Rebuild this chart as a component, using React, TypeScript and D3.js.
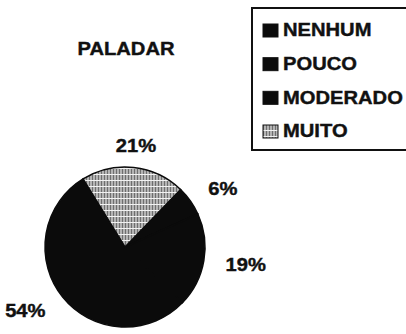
import { useEffect, useRef } from 'react'
import * as d3 from 'd3'

const categories = ['NENHUM', 'POUCO', 'MODERADO', 'MUITO']
const values = [6, 19, 54, 21]
const labels = ['6%', '19%', '54%', '21%']
const title = 'PALADAR'

const PieChart = () => {
  const pieChart = useRef<HTMLDivElement>(null)

  const drawPieChart = () => {
    // set parameters
    const width = 406
    const height = 334
    const cx = 125
    const cy = 247
    const radius = 80
    const labelRadius = 102
    const stretch = 1.12
    const font = "'Liberation Sans', Arial, sans-serif"

    d3.select(pieChart.current).selectAll('*').remove()

    const svg = d3.select(pieChart.current)
      .append('svg')
      .attr('width', width)
      .attr('height', height)
      .style('display', 'block')
      .style('background', '#fff')

    // hatch pattern for MUITO
    const defs = svg.append('defs')
    const pat = defs.append('pattern')
      .attr('id', 'hatch')
      .attr('patternUnits', 'userSpaceOnUse')
      .attr('width', 3)
      .attr('height', 6)
    pat.append('rect').attr('width', 3).attr('height', 6).attr('fill', '#b4b4b4')
    pat.append('line').attr('x1', 0.5).attr('x2', 0.5).attr('y1', 0).attr('y2', 6)
      .attr('stroke', '#6e6e6e').attr('stroke-width', 1)
    pat.append('line').attr('x1', 0).attr('x2', 3).attr('y1', 5.5).attr('y2', 5.5)
      .attr('stroke', '#f2f2f2').attr('stroke-width', 1)

    const color = d3.scaleOrdinal<string, string>()
      .domain(categories)
      .range(['#0b0b0b', '#0b0b0b', '#0b0b0b', 'url(#hatch)'])

    // title
    svg.append('text')
      .attr('transform', `translate(126,55) scale(${stretch},1)`)
      .attr('text-anchor', 'middle')
      .attr('font-family', font)
      .attr('font-weight', 'bold')
      .attr('font-size', 18)
      .attr('fill', '#111')
      .attr('stroke', '#111')
      .attr('stroke-width', 0.4)
      .text(title)

    // pie
    const startAngle = (44 / 180) * Math.PI
    const pie = d3.pie<number>()
      .sort(null)
      .startAngle(startAngle)
      .endAngle(startAngle + 2 * Math.PI)
    const arcs = pie(values)
    const arc = d3.arc<d3.PieArcDatum<number>>().innerRadius(0).outerRadius(radius)
    const labelArc = d3.arc<d3.PieArcDatum<number>>().innerRadius(labelRadius).outerRadius(labelRadius)

    const g = svg.append('g').attr('transform', `translate(${cx},${cy})`)
    g.selectAll('path')
      .data(arcs)
      .enter().append('path')
        .attr('d', arc)
        .attr('fill', (d, i) => color(categories[i]))
        .attr('stroke', '#0b0b0b')
        .attr('stroke-width', 1.5)

    g.selectAll('text')
      .data(arcs)
      .enter().append('text')
        .attr('transform', d => {
          const [x, y] = labelArc.centroid(d)
          return `translate(${x},${y}) scale(${stretch},1)`
        })
        .attr('dy', '0.35em')
        .attr('text-anchor', d => {
          const x = labelArc.centroid(d)[0]
          return x > 30 ? 'start' : x < -30 ? 'end' : 'middle'
        })
        .attr('font-family', font)
        .attr('font-weight', 'bold')
        .attr('font-size', 18)
        .attr('fill', '#111')
        .attr('stroke', '#111')
        .attr('stroke-width', 0.4)
        .text((d, i) => labels[i])

    // legend
    const legend = svg.append('g')
    legend.append('rect')
      .attr('x', 252)
      .attr('y', 8)
      .attr('width', 170)
      .attr('height', 142)
      .attr('fill', 'none')
      .attr('stroke', '#111')
      .attr('stroke-width', 2)

    const ly = d3.scalePoint()
      .domain(categories)
      .range([30, 131])

    const items = legend.selectAll('g.item')
      .data(categories)
      .enter().append('g')
        .attr('class', 'item')
        .attr('transform', d => `translate(263,${ly(d)})`)
    items.append('rect')
      .attr('x', 0)
      .attr('y', -6)
      .attr('width', 15)
      .attr('height', 13)
      .attr('fill', d => color(d))
      .attr('stroke', '#111')
      .attr('stroke-width', 1)
    items.append('text')
      .attr('transform', `translate(20,0) scale(${stretch},1)`)
      .attr('dy', '0.35em')
      .attr('font-family', font)
      .attr('font-weight', 'bold')
      .attr('font-size', 18)
      .attr('fill', '#111')
      .attr('stroke', '#111')
      .attr('stroke-width', 0.4)
      .text(d => d)
  }

  useEffect(() => {
    drawPieChart()
  }, [])

  return (
    <>
      <div ref={pieChart} className='chart'></div>
    </>
  )
}

export default function App() {
  return (
    <div style={{ position: 'fixed', left: 0, top: 0 }}>
      <PieChart />
    </div>
  )
}
